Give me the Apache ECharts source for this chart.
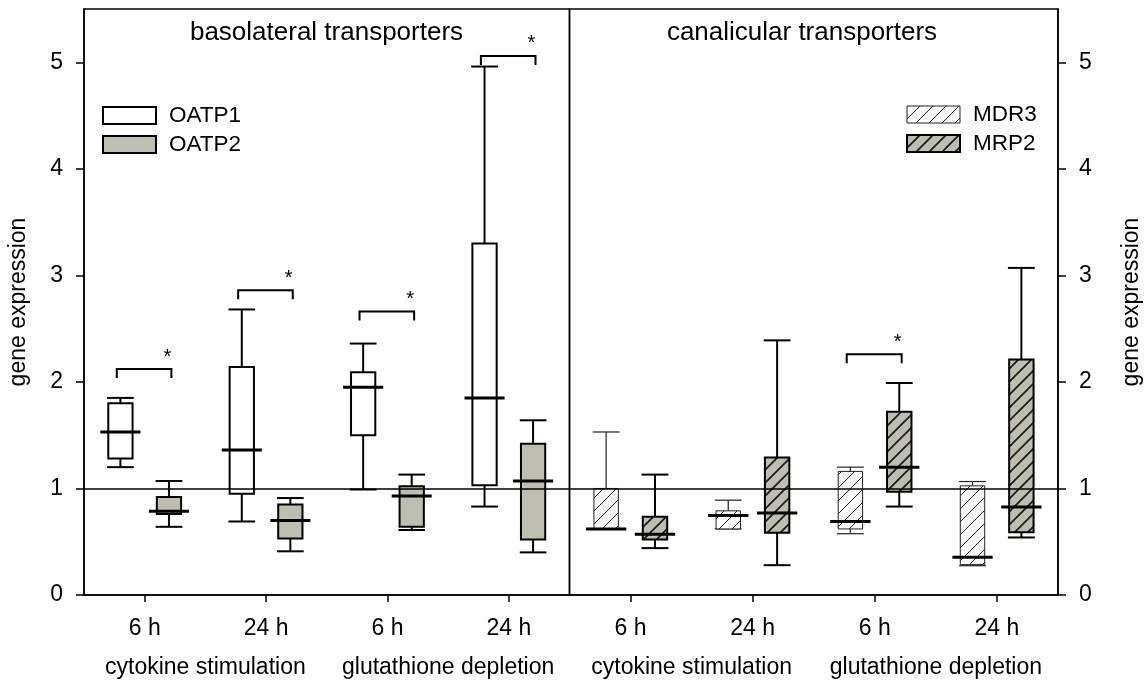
<!DOCTYPE html>
<html>
<head>
<meta charset="utf-8">
<script src="https://cdn.jsdelivr.net/npm/echarts@6/dist/echarts.min.js"></script>
<style>
html,body{margin:0;padding:0;background:#fff;}
#chart{width:1145px;height:686px;}
</style>
</head>
<body>
<div id="chart"></div>
<script>
// ---------- data ----------
const categories = ['6 h', '24 h', '6 h', '24 h'];
const groupLabels = ['cytokine stimulation', 'glutathione depletion'];
const yTicks = [0, 1, 2, 3, 4, 5];
const panelTitles = ['basolateral transporters', 'canalicular transporters'];
// each row: [low whisker, Q1, median, Q3, high whisker]
const oatp1 = [[1.20, 1.28, 1.53, 1.80, 1.85], [0.69, 0.95, 1.36, 2.14, 2.68], [0.99, 1.50, 1.95, 2.09, 2.36], [0.83, 1.03, 1.85, 3.30, 4.96]];
const oatp2 = [[0.64, 0.76, 0.785, 0.92, 1.07], [0.41, 0.53, 0.70, 0.85, 0.91], [0.61, 0.64, 0.93, 1.02, 1.13], [0.40, 0.52, 1.07, 1.42, 1.64]];
const mdr3  = [[0.62, 0.62, 0.62, 1.00, 1.53], [0.62, 0.62, 0.745, 0.79, 0.89], [0.575, 0.62, 0.69, 1.16, 1.20], [0.275, 0.285, 0.355, 1.025, 1.065]];
const mrp2  = [[0.44, 0.52, 0.57, 0.735, 1.13], [0.28, 0.585, 0.77, 1.29, 2.39], [0.83, 0.97, 1.20, 1.72, 1.99], [0.54, 0.59, 0.825, 2.21, 3.07]];
// significance brackets: [category index, bracket height]
const sigBasolateral = [[0, 2.12], [1, 2.86], [2, 2.66], [3, 5.06]];
const sigCanalicular = [[2, 2.26]];
const refValue = 1;

// ---------- styles ----------
const FONT = 'Liberation Sans, Arial, sans-serif';
const GRAY = '#bdbdb1';
function hatch(bg, line, lw) {
  const s = 13;
  const c = document.createElement('canvas');
  c.width = s; c.height = s;
  const g = c.getContext('2d');
  g.fillStyle = bg; g.fillRect(0, 0, s, s);
  g.strokeStyle = line; g.lineWidth = lw;
  g.beginPath();
  for (const k of [0, s, 2 * s]) { g.moveTo(-2, k + 2); g.lineTo(k + 2, -2); }
  g.stroke();
  return { type: 'pattern', image: c, repeat: 'repeat' };
}
const hatchWhite = hatch('#ffffff', '#222222', 1);
const hatchGray = hatch(GRAY, '#1a1a1a', 1.7);

const styles = {
  OATP1: { fill: '#ffffff', stroke: '#000', boxLW: 2, whLW: 2, medLW: 3 },
  OATP2: { fill: GRAY, stroke: '#000', boxLW: 2, whLW: 2, medLW: 3 },
  MDR3:  { fill: hatchWhite, stroke: '#222', boxLW: 1, whLW: 1.2, medLW: 3 },
  MRP2:  { fill: hatchGray, stroke: '#000', boxLW: 2, whLW: 2, medLW: 3 }
};

function boxRender(offsetFrac, st) {
  return function (params, api) {
    const cat = api.value(0);
    const band = api.size([1, 0])[0];
    const cx = api.coord([cat, 0])[0] + offsetFrac * band;
    const y = i => api.coord([cat, api.value(i)])[1];
    const yLow = y(1), yQ1 = y(2), yMed = y(3), yQ3 = y(4), yHigh = y(5);
    const bw = 0.2 * band, cw = 0.22 * band, mw = 0.33 * band;
    const ls = { stroke: st.stroke, lineWidth: st.whLW };
    return {
      type: 'group',
      children: [
        { type: 'line', shape: { x1: cx, y1: yQ3, x2: cx, y2: yHigh }, style: ls },
        { type: 'line', shape: { x1: cx, y1: yQ1, x2: cx, y2: yLow }, style: ls },
        { type: 'line', shape: { x1: cx - cw / 2, y1: yHigh, x2: cx + cw / 2, y2: yHigh }, style: ls },
        { type: 'line', shape: { x1: cx - cw / 2, y1: yLow, x2: cx + cw / 2, y2: yLow }, style: ls },
        { type: 'rect', shape: { x: cx - bw / 2, y: yQ3, width: bw, height: yQ1 - yQ3 },
          style: { fill: st.fill, stroke: st.stroke, lineWidth: st.boxLW } },
        { type: 'line', shape: { x1: cx - mw / 2, y1: yMed, x2: cx + mw / 2, y2: yMed },
          style: { stroke: '#000', lineWidth: st.medLW } }
      ]
    };
  };
}

function sigRender(params, api) {
  const cat = api.value(0);
  const band = api.size([1, 0])[0];
  const c = api.coord([cat, api.value(1)]);
  const x1 = c[0] - 0.23 * band, x2 = c[0] + 0.22 * band, yt = c[1], leg = 9;
  return {
    type: 'group',
    children: [
      { type: 'polyline', shape: { points: [[x1, yt + leg], [x1, yt], [x2, yt], [x2, yt + leg]] },
        style: { stroke: '#000', lineWidth: 2, fill: null } },
      { type: 'text', style: { text: '*', x: x2 - 4, y: yt - 12, font: '20px ' + FONT,
        textAlign: 'center', textVerticalAlign: 'middle', fill: '#000' } }
    ]
  };
}

const toData = arr => arr.map((v, i) => [i].concat(v));
const refLine = {
  silent: true, symbol: ['none', 'none'], label: { show: false },
  lineStyle: { color: '#000', type: 'solid', width: 1.5 },
  emphasis: { disabled: true }, animation: false,
  data: [{ yAxis: refValue }]
};

function xCat(gi) {
  return {
    gridIndex: gi, type: 'category', data: categories, boundaryGap: true, position: 'bottom',
    axisLine: { show: true, lineStyle: { color: '#000', width: 1.5 } },
    axisTick: { show: true, alignWithLabel: true, length: 7, lineStyle: { color: '#000', width: 1.5 } },
    axisLabel: { interval: 0, fontSize: 23, fontFamily: FONT, color: '#000', margin: 22 },
    splitLine: { show: false }
  };
}
function xGroup(gi) {
  return {
    gridIndex: gi, type: 'category', data: groupLabels, boundaryGap: true, position: 'bottom',
    axisLine: { show: false }, axisTick: { show: false },
    axisLabel: { interval: 0, hideOverlap: false, fontSize: 23, fontFamily: FONT, color: '#000', margin: 61 },
    splitLine: { show: false }
  };
}
function yVal(gi, pos, gap) {
  return {
    gridIndex: gi, type: 'value', min: 0, max: 5.5, interval: 1, position: pos,
    axisLine: { show: true, lineStyle: { color: '#000', width: 1.5 } },
    axisTick: { show: true, inside: false, length: 8, customValues: yTicks, lineStyle: { color: '#000', width: 1.5 } },
    axisLabel: { show: true, customValues: yTicks, fontSize: 23, fontFamily: FONT, color: '#000', margin: 21 },
    splitLine: { show: false },
    name: 'gene expression', nameLocation: 'middle', nameGap: gap, nameRotate: 90,
    nameTextStyle: { fontSize: 23, fontFamily: FONT, color: '#000' }
  };
}

const chart = echarts.init(document.getElementById('chart'), null, { renderer: 'canvas' });
const legendText = { fontSize: 22.5, fontFamily: FONT, color: '#000', padding: [0, 0, 0, 8] };
chart.setOption({
  animation: false,
  backgroundColor: '#fff',
  grid: [
    { left: 84, width: 485.5, top: 9, bottom: 91, show: true, borderColor: '#000', borderWidth: 1.5, containLabel: false, outerBoundsMode: 'none' },
    { left: 569.5, right: 87, top: 9, bottom: 91, show: true, borderColor: '#000', borderWidth: 1.5, containLabel: false, outerBoundsMode: 'none' }
  ],
  xAxis: [xCat(0), xCat(1), xGroup(0), xGroup(1)],
  yAxis: [yVal(0, 'left', 54), yVal(1, 'right', 62)],
  legend: [
    { left: 102, top: 104, orient: 'vertical', padding: 0, icon: 'rect', itemWidth: 53, itemHeight: 17, itemGap: 6,
      selectedMode: false, textStyle: legendText,
      data: [
        { name: 'OATP1', itemStyle: { color: '#fff', borderColor: '#000', borderWidth: 2 } },
        { name: 'OATP2', itemStyle: { color: GRAY, borderColor: '#000', borderWidth: 2 } }
      ] },
    { left: 906, top: 103, orient: 'vertical', padding: 0, icon: 'rect', itemWidth: 53, itemHeight: 17, itemGap: 6,
      selectedMode: false, textStyle: legendText,
      data: [
        { name: 'MDR3', itemStyle: { color: hatchWhite, borderColor: '#222', borderWidth: 1 } },
        { name: 'MRP2', itemStyle: { color: hatchGray, borderColor: '#000', borderWidth: 2 } }
      ] }
  ],
  graphic: [
    { type: 'text', x: 326.5, y: 33, style: { text: panelTitles[0], font: '26px ' + FONT, fill: '#000', textAlign: 'center', textVerticalAlign: 'middle' } },
    { type: 'text', x: 802, y: 33, style: { text: panelTitles[1], font: '26px ' + FONT, fill: '#000', textAlign: 'center', textVerticalAlign: 'middle' } }
  ],
  series: [
    { type: 'custom', name: 'OATP1', xAxisIndex: 0, yAxisIndex: 0, data: toData(oatp1), encode: { x: 0, y: [1, 2, 3, 4, 5] },
      itemStyle: { color: '#fff', borderColor: '#000' }, renderItem: boxRender(-0.2, styles.OATP1), markLine: refLine, z: 2 },
    { type: 'custom', name: 'OATP2', xAxisIndex: 0, yAxisIndex: 0, data: toData(oatp2), encode: { x: 0, y: [1, 2, 3, 4, 5] },
      itemStyle: { color: GRAY, borderColor: '#000' }, renderItem: boxRender(0.2, styles.OATP2), z: 2 },
    { type: 'custom', name: 'MDR3', xAxisIndex: 1, yAxisIndex: 1, data: toData(mdr3), encode: { x: 0, y: [1, 2, 3, 4, 5] },
      itemStyle: { color: '#fff', borderColor: '#222' }, renderItem: boxRender(-0.2, styles.MDR3), markLine: refLine, z: 2 },
    { type: 'custom', name: 'MRP2', xAxisIndex: 1, yAxisIndex: 1, data: toData(mrp2), encode: { x: 0, y: [1, 2, 3, 4, 5] },
      itemStyle: { color: GRAY, borderColor: '#000' }, renderItem: boxRender(0.2, styles.MRP2), z: 2 },
    { type: 'custom', name: 'sigB', xAxisIndex: 0, yAxisIndex: 0, data: sigBasolateral, encode: { x: 0, y: 1 }, renderItem: sigRender, silent: true, z: 3 },
    { type: 'custom', name: 'sigC', xAxisIndex: 1, yAxisIndex: 1, data: sigCanalicular, encode: { x: 0, y: 1 }, renderItem: sigRender, silent: true, z: 3 }
  ]
});
</script>
</body>
</html>
